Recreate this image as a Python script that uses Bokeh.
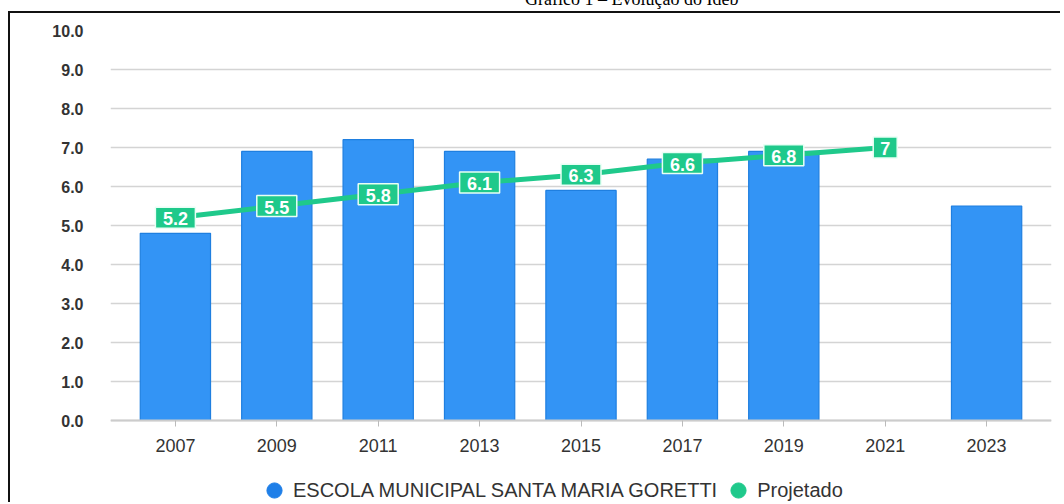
from bokeh.plotting import figure
from bokeh.layouts import column
from bokeh.models import (ColumnDataSource, Range1d, FixedTicker, Legend, LegendItem,
                          NumeralTickFormatter, Div)
from bokeh.core.properties import value
from bokeh.embed import file_html
from bokeh.resources import INLINE

title_text = "Gráfico 1 – Evolução do Ideb"
years = [2007, 2009, 2011, 2013, 2015, 2017, 2019, 2021, 2023]
year_labels = ["2007", "2009", "2011", "2013", "2015", "2017", "2019", "2021", "2023"]
escola = [4.8, 6.9, 7.2, 6.9, 5.9, 6.7, 6.9, None, 5.5]
proj_years = [2007, 2009, 2011, 2013, 2015, 2017, 2019, 2021]
projetado = [5.2, 5.5, 5.8, 6.1, 6.3, 6.6, 6.8, 7.0]
proj_labels = ["5.2", "5.5", "5.8", "6.1", "6.3", "6.6", "6.8", "7"]
y_ticks = [0, 1, 2, 3, 4, 5, 6, 7, 8, 9, 10]

BLUE = "#3394f5"
BLUE_EDGE = "#1f7fe0"
GREEN = "#1fc98b"
FONT = "Liberation Sans"

bar_years = [y for y, v in zip(years, escola) if v is not None]
bar_vals = [v for v in escola if v is not None]

p = figure(width=1052, height=491, output_backend="svg", toolbar_location=None,
           x_range=Range1d(2005.72, 2024.28), y_range=Range1d(-84 / 39, 10),
           min_border_left=100, min_border_right=11, min_border_top=17,
           min_border_bottom=0)
p.styles = {"margin-left": "8px",
            "border-left": "2px solid #111", "border-top": "2px solid #111"}
p.outline_line_color = None
p.background_fill_color = "white"

bars = p.vbar(x=bar_years, top=bar_vals, width=1.386, fill_color=BLUE,
              line_color=BLUE_EDGE, line_width=1.2)
line = p.line(x=proj_years, y=projetado, line_color=GREEN, line_width=5)

# label boxes: width follows the length of each label
box_w = [16 + 8 * len(t) for t in proj_labels]
src = ColumnDataSource(dict(x=proj_years, y=projetado, t=proj_labels, w=box_w))
p.rect(x="x", y="y", width="w", height=21, width_units="screen", height_units="screen",
       source=src, fill_color=GREEN, line_color="#e8fff5", line_width=1.5)
p.text(x="x", y="y", text="t", source=src, text_color="white",
       text_font=value(FONT), text_font_style="bold", text_font_size="18px",
       text_align="center", text_baseline="middle", y_offset=1)

# legend proxies (outside the visible range)
lb = p.scatter(x=[2000], y=[-50], marker="circle", size=17, fill_color="#1f7fe8", line_color="#1f7fe8")
lg = p.scatter(x=[2000], y=[-50], marker="circle", size=17, fill_color=GREEN, line_color=GREEN)

p.xaxis.fixed_location = 0
p.xaxis.ticker = FixedTicker(ticks=years)
p.xaxis.major_label_overrides = {y: l for y, l in zip(years, year_labels)}
p.xaxis.axis_line_color = "#cccccc"
p.xaxis.axis_line_width = 2
p.xaxis.major_tick_line_color = "#bbbbbb"
p.xaxis.major_tick_out = 6
p.xaxis.major_tick_in = 0
p.xaxis.minor_tick_line_color = None
p.xaxis.major_label_text_font = FONT
p.xaxis.major_label_text_font_size = "18px"
p.xaxis.major_label_text_color = "#333333"
p.xaxis.major_label_standoff = 12

p.yaxis.ticker = FixedTicker(ticks=y_ticks)
p.yaxis.formatter = NumeralTickFormatter(format="0.0")
p.yaxis.axis_line_color = None
p.yaxis.major_tick_line_color = None
p.yaxis.minor_tick_line_color = None
p.yaxis.major_label_text_font = FONT
p.yaxis.major_label_text_font_style = "bold"
p.yaxis.major_label_text_font_size = "16px"
p.yaxis.major_label_text_color = "#333333"
p.yaxis.major_label_standoff = 21

p.xgrid.grid_line_color = None
p.ygrid.grid_line_color = "#d4d4d4"
p.ygrid.grid_line_width = 1.5

legend = Legend(items=[LegendItem(label="ESCOLA MUNICIPAL SANTA MARIA GORETTI", renderers=[lb]),
                       LegendItem(label="Projetado", renderers=[lg])],
                orientation="horizontal", location=(145, -5),
                label_text_font=FONT, label_text_font_size="20px",
                label_text_color="#333333", glyph_width=38, glyph_height=38,
                label_standoff=0, spacing=2, border_line_color=None,
                background_fill_alpha=0, padding=0, margin=0)
p.add_layout(legend, "center")

title = Div(text=('<div style="position:relative; top:-10px; margin-left:525px; '
                  'font-family:\'Liberation Serif\'; font-size:18px; line-height:18px; '
                  'white-space:nowrap; color:#000;">' + title_text + '</div>'),
            width=1062, height=11, margin=0, styles={"overflow": "hidden"})

layout = column(title, p, spacing=0)

open("out.html", "w").write(file_html(layout, INLINE))
